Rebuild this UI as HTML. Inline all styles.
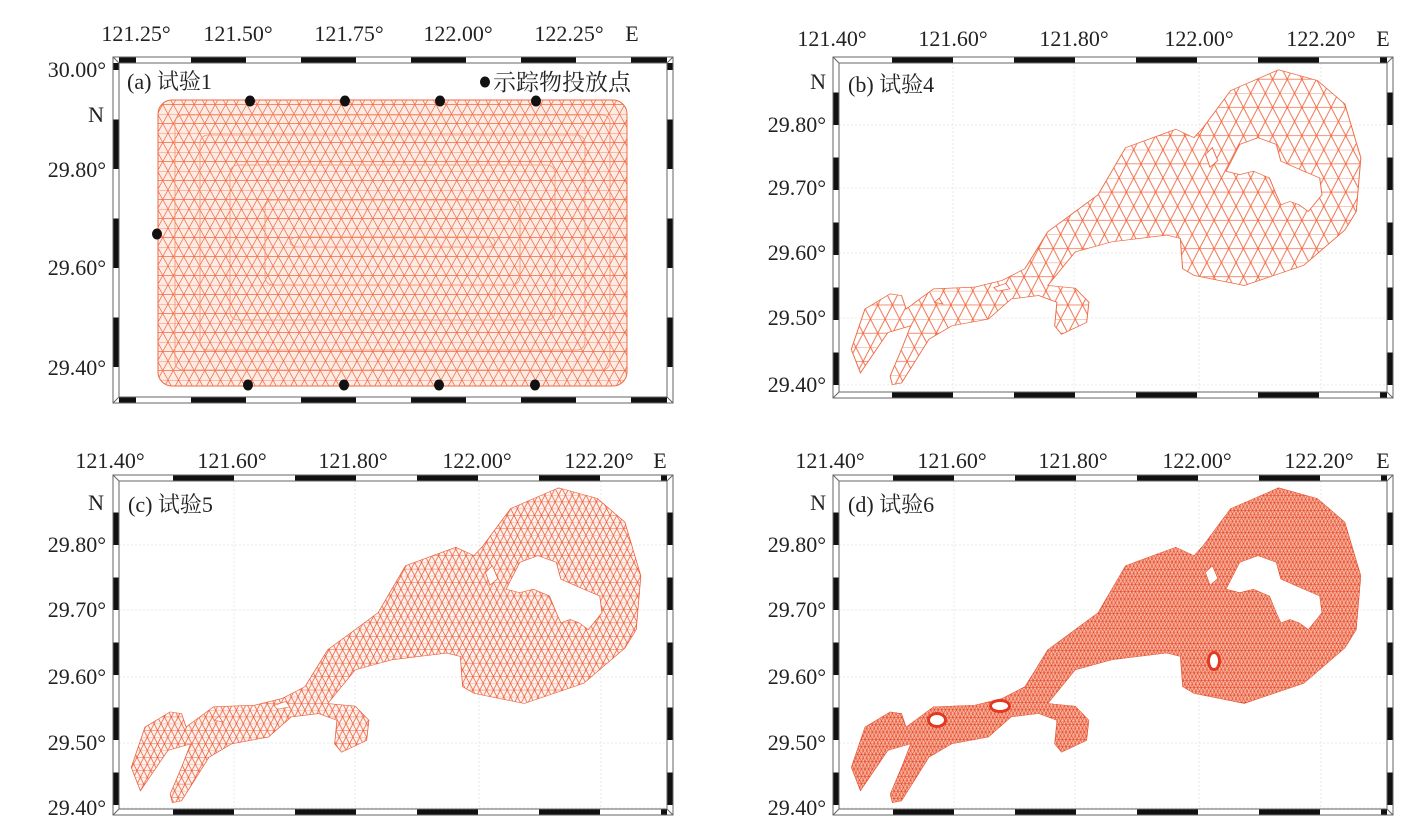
<!DOCTYPE html>
<html><head><meta charset="utf-8">
<style>
html,body{margin:0;padding:0;background:#fff;}
svg{display:block;}
text{font-family:"Liberation Serif","Noto Serif CJK SC",serif;fill:#222;}
</style></head>
<body>
<svg id="s" width="1425" height="832" viewBox="0 0 1425 832" xmlns="http://www.w3.org/2000/svg">
<defs>
<pattern id="pa" patternUnits="userSpaceOnUse" width="10.5" height="19">
<path d="M0 0H10.5M0 9.5H10.5M0 0L5.25 9.5L10.5 0M0 19L5.25 9.5L10.5 19" stroke="#f06a44" stroke-width="0.75" fill="none"/>
</pattern>
<pattern id="pb" patternUnits="userSpaceOnUse" width="32" height="84">
<path d="M0 0H32M0 42H32M0 0L16 42L32 0M0 84L16 42L32 84" stroke="#f06a44" stroke-width="2.2" fill="none"/>
</pattern>
<pattern id="pc" patternUnits="userSpaceOnUse" width="15" height="40">
<path d="M0 0H15M0 20H15M0 0L7.5 20L15 0M0 40L7.5 20L15 40" stroke="#ec5c38" stroke-width="1.7" fill="none"/>
</pattern>
<pattern id="pd" patternUnits="userSpaceOnUse" width="8" height="22">
<path d="M0 0H8M0 11H8M0 0L4 11L8 0M0 22L4 11L8 22" stroke="#e4401f" stroke-width="1.2" fill="none"/>
</pattern>
</defs>
<g id="g"></g>
</svg>
<script>
var out='';
function frame(x0,y0,x1,y1,xl,xs,yl,ys,grid){
  var w=6;
  if(grid){
    xl.forEach(function(x){out+='<line x1="'+x+'" y1="'+(y0+w)+'" x2="'+x+'" y2="'+(y1-w)+'" stroke="#e8e8e8" stroke-width="1" stroke-dasharray="2,2"/>';});
    yl.forEach(function(y){out+='<line x1="'+(x0+w)+'" y1="'+y+'" x2="'+(x1-w)+'" y2="'+y+'" stroke="#e8e8e8" stroke-width="1" stroke-dasharray="2,2"/>';});
  }
  var L0=xl[0]-xs*10;
  for(var L=L0;L<x1+xs*2;L+=xs*2){
    var a=Math.max(L-xs,x0+w),b=Math.min(L,x1-w);
    if(b>a){out+='<rect x="'+a+'" y="'+y0+'" width="'+(b-a)+'" height="'+w+'" fill="#111"/>';
      out+='<rect x="'+a+'" y="'+(y1-w)+'" width="'+(b-a)+'" height="'+w+'" fill="#111"/>';}
  }
  var M0=yl[0]-ys*10;
  for(var M=M0;M<y1+ys*2;M+=ys*2){
    var c=Math.max(M-ys,y0+w),d=Math.min(M,y1-w);
    if(d>c){out+='<rect x="'+x0+'" y="'+c+'" width="'+w+'" height="'+(d-c)+'" fill="#111"/>';
      out+='<rect x="'+(x1-w)+'" y="'+c+'" width="'+w+'" height="'+(d-c)+'" fill="#111"/>';}
  }
  out+='<rect x="'+x0+'" y="'+y0+'" width="'+(x1-x0)+'" height="'+(y1-y0)+'" fill="none" stroke="#666" stroke-width="1"/>';
  out+='<rect x="'+(x0+w)+'" y="'+(y0+w)+'" width="'+(x1-x0-2*w)+'" height="'+(y1-y0-2*w)+'" fill="none" stroke="#666" stroke-width="1"/>';
  out+='<path d="M'+x0+' '+y0+'L'+(x0+w)+' '+(y0+w)+'M'+x1+' '+y0+'L'+(x1-w)+' '+(y0+w)+'M'+x0+' '+y1+'L'+(x0+w)+' '+(y1-w)+'M'+x1+' '+y1+'L'+(x1-w)+' '+(y1-w)+'" stroke="#666" stroke-width="1"/>';
}
function txt(x,y,s,anchor,size){out+='<text x="'+x+'" y="'+y+'" font-size="'+(size||22)+'" text-anchor="'+(anchor||'middle')+'">'+s+'</text>';}

var shape='M330 1000L310 930L340 810L395 765L420 770L430 810L490 750L580 745L640 725L690 690L740 580L800 520L850 470L910 330L1020 275L1060 300L1080 270L1140 160L1245 98L1330 130L1390 200L1425 360L1415 520L1390 575L1300 680L1170 740L1060 710L1035 690L1030 600L1000 590L880 610L800 640L740 740L800 748L830 790L825 850L770 885L755 860L760 790L720 770L660 780L610 840L530 860L480 900L420 1030L400 1035L395 1010L420 930L440 860L390 880L350 960Z'+
 'M1130 400L1160 320L1200 300L1240 320L1250 370L1300 400L1335 420L1340 470L1310 520L1290 500L1270 490L1250 500L1240 470L1225 420L1190 400L1160 410Z'+
 'M1085 350L1100 330L1112 368L1095 388Z'+
 'M622 746L648 734L657 750L630 757Z'+
 'M492 790L502 778L510 795Z';
function mesh(fx,fy,pat,col,bg,sw){
  out+='<g transform="translate('+fx+','+fy+') scale(0.457,0.336) translate(-270,-60)">';
  out+='<path d="'+shape+'" fill="'+bg+'" fill-rule="evenodd"/>';
  out+='<path d="'+shape+'" fill="url(#'+pat+')" fill-rule="evenodd" stroke="'+col+'" stroke-width="'+sw+'"/>';
  out+='</g>';
}

// Panel a
out+='<rect x="158" y="100" width="469" height="286" rx="14" fill="#fdebe4"/>';
out+='<rect x="158" y="100" width="469" height="286" rx="14" fill="url(#pa)" stroke="#f06a44" stroke-width="1"/>';
[[175,115,435,255],[200,135,385,215],[230,165,325,155],[265,200,255,85],[290,237,205,10]].forEach(function(r){
 out+='<rect x="'+r[0]+'" y="'+r[1]+'" width="'+r[2]+'" height="'+r[3]+'" rx="8" fill="none" stroke="#f4906c" stroke-width="0.8"/>';});
frame(113,57,673,403,[136,238,349,458,569],55,[70,170,268,368],49.5,false);
txt(136,41,'121.25°');txt(238,41,'121.50°');txt(349,41,'121.75°');txt(458,41,'122.00°');txt(569,41,'122.25°');txt(632,41,'E');
txt(106,77,'30.00°','end');txt(104,122,'N','end');txt(106,177,'29.80°','end');txt(106,275,'29.60°','end');txt(106,375,'29.40°','end');
txt(127,89,'(a) 试验1','start');
[[250,101],[345,101],[440,101],[536,101],[248,385],[344,385],[439,385],[535,385],[157,234]].forEach(function(p){
 out+='<ellipse cx="'+p[0]+'" cy="'+p[1]+'" rx="5" ry="5.5" fill="#111"/>';});
out+='<ellipse cx="485" cy="82" rx="5" ry="5.5" fill="#111"/>';
txt(493,90,'示踪物投放点','start',23);

// Panel b
frame(833,57,1393,398,[953,1074,1199,1321],61,[125,188,253,318,385],32.5,true);
mesh(833,57,'pb','#f06a44','#fff',2.2);
txt(832,46,'121.40°');txt(953,46,'121.60°');txt(1074,46,'121.80°');txt(1199,46,'122.00°');txt(1321,46,'122.20°');txt(1383,46,'E');
txt(826,89,'N','end');txt(826,132,'29.80°','end');txt(826,195,'29.70°','end');txt(826,260,'29.60°','end');txt(826,325,'29.50°','end');txt(826,392,'29.40°','end');
txt(848,92,'(b) 试验4','start');

// Panel c
frame(113,475,673,815,[234,355,479,601],61,[545,610,677,743,808],32.5,true);
mesh(113,475,'pc','#ec5c38','#fef3ef',1.7);
txt(110,468,'121.40°');txt(232,468,'121.60°');txt(353,468,'121.80°');txt(477,468,'122.00°');txt(599,468,'122.20°');txt(660,468,'E');
txt(104,510,'N','end');txt(106,552,'29.80°','end');txt(106,617,'29.70°','end');txt(106,684,'29.60°','end');txt(106,750,'29.50°','end');txt(106,815,'29.40°','end');
txt(128,512,'(c) 试验5','start');

// Panel d
frame(833,475,1393,815,[954,1075,1199,1321],61,[545,610,677,743,808],32.5,true);
mesh(833,475,'pd','#e4401f','#f8b8a4',1.2);
[[937,720,7,5],[1000,706,8,4],[1214,661,4,7]].forEach(function(h){
 out+='<ellipse cx="'+h[0]+'" cy="'+h[1]+'" rx="'+(h[2]+3)+'" ry="'+(h[3]+3)+'" fill="#e02a14" opacity="0.85"/>';
 out+='<ellipse cx="'+h[0]+'" cy="'+h[1]+'" rx="'+h[2]+'" ry="'+h[3]+'" fill="#fff"/>';});
txt(830,468,'121.40°');txt(952,468,'121.60°');txt(1073,468,'121.80°');txt(1197,468,'122.00°');txt(1319,468,'122.20°');txt(1383,468,'E');
txt(826,510,'N','end');txt(826,552,'29.80°','end');txt(826,617,'29.70°','end');txt(826,684,'29.60°','end');txt(826,750,'29.50°','end');txt(826,815,'29.40°','end');
txt(848,512,'(d) 试验6','start');

document.getElementById('g').innerHTML=out;
</script>
</body></html>
